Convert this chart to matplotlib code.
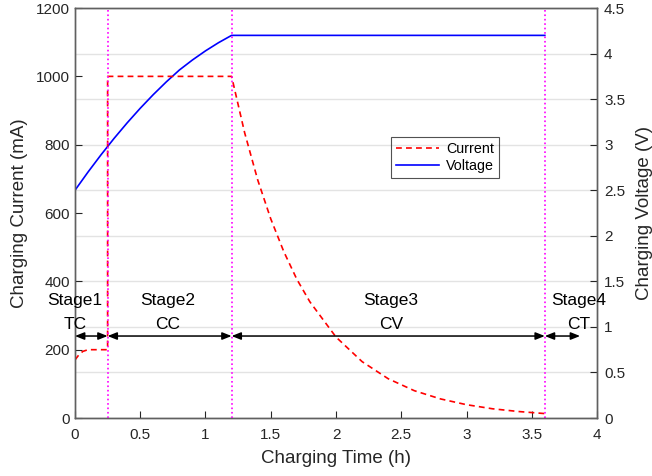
import numpy as np
import matplotlib
matplotlib.use('Agg')
from matplotlib import pyplot as plt
from matplotlib.ticker import FormatStrFormatter

plt.rcParams['font.family'] = ['Liberation Sans', 'DejaVu Sans']

# current (mA)
t_cur = [0, 0.03, 0.06, 0.1, 0.15, 0.25, 0.25, 1.2, 1.3, 1.4, 1.5, 1.6, 1.7, 1.8,
         2.0, 2.2, 2.4, 2.6, 2.8, 3.0, 3.2, 3.4, 3.6, 3.6]
i_cur = [170, 185, 195, 200, 200, 200, 1000, 1000, 835, 697, 583, 487, 406, 340,
         237, 165, 115, 80, 56, 39, 27, 19, 13, 0]

# voltage (V)
t_vol = [0, 0.1, 0.2, 0.3, 0.4, 0.5, 0.6, 0.7, 0.8, 0.9, 1.0, 1.1, 1.2, 3.6]
v_vol = [2.5, 2.70, 2.89, 3.07, 3.24, 3.40, 3.55, 3.69, 3.82, 3.93, 4.03, 4.12, 4.2, 4.2]

stage_bounds = [0.25, 1.2, 3.6]
arrows = [(0, 0.25), (0.25, 1.2), (1.2, 3.6), (3.6, 3.87)]
stage_names = ['Stage1', 'Stage2', 'Stage3', 'Stage4']
stage_modes = ['TC', 'CC', 'CV', 'CT']
stage_x = [0.0, 0.71, 2.42, 3.86]

dark = '#262626'
fig = plt.figure(figsize=(6.52, 4.76), dpi=100)
ax1 = fig.add_axes([0.115, 0.1218, 0.8007, 0.8613])
ax2 = ax1.twinx()
ax1.set_zorder(2)
ax1.patch.set_visible(False)

l2, = ax2.plot(t_vol, v_vol, color='#0000ff', lw=1.2, label='Voltage')
l1, = ax1.plot(t_cur, i_cur, color='#ff0000', ls=(0, (3.5, 2.5)), lw=1.2, label='Current')

for b in stage_bounds:
    ax1.axvline(b, color='#ff00ff', ls=':', lw=1.2)

for (a, b) in arrows:
    ax1.annotate('', xy=(b, 240), xytext=(a, 240),
                 arrowprops=dict(arrowstyle='<|-|>,head_length=0.55,head_width=0.22',
                                 color='black', lw=1.1, shrinkA=0, shrinkB=0))
for x, n, m in zip(stage_x, stage_names, stage_modes):
    ax1.text(x, 345, n, ha='center', va='center', fontsize=12.5, color='black')
    ax1.text(x, 275, m, ha='center', va='center', fontsize=12.5, color='black')

ax1.set_xlim(0, 4)
ax1.set_ylim(0, 1200)
ax2.set_ylim(0, 4.5)
ax1.set_xticks(np.arange(0, 4.01, 0.5))
ax1.set_yticks(np.arange(0, 1201, 200))
ax2.set_yticks(np.arange(0, 4.51, 0.5))
ax1.xaxis.set_major_formatter(FormatStrFormatter('%g'))
ax2.yaxis.set_major_formatter(FormatStrFormatter('%g'))

ax2.grid(True, color='#e3e3e3', lw=1)
ax2.set_axisbelow(True)

for ax in (ax1, ax2):
    ax.tick_params(direction='in', labelsize=11, colors=dark, length=5)
    for s in ax.spines.values():
        s.set_color('#606060')
        s.set_linewidth(1)
ax1.tick_params(axis='x', pad=7)
ax2.tick_params(axis='y', pad=5)

ax1.set_xlabel('Charging Time (h)', fontsize=13.5, color=dark, labelpad=6)
ax1.set_ylabel('Charging Current (mA)', fontsize=13.5, color=dark, labelpad=5.5)
ax2.set_ylabel('Charging Voltage (V)', fontsize=13.5, color=dark, labelpad=8)

leg = ax1.legend([l1, l2], ['Current', 'Voltage'], loc='upper left',
                 bbox_to_anchor=(0.605, 0.685), fontsize=10.3, fancybox=False,
                 handlelength=3.0, borderaxespad=0, borderpad=0.35,
                 labelspacing=0.2, handletextpad=0.5)
leg.get_frame().set_edgecolor(dark)
leg.get_frame().set_facecolor('none')
leg.get_frame().set_linewidth(0.8)

fig.savefig('out.png', dpi=100)
